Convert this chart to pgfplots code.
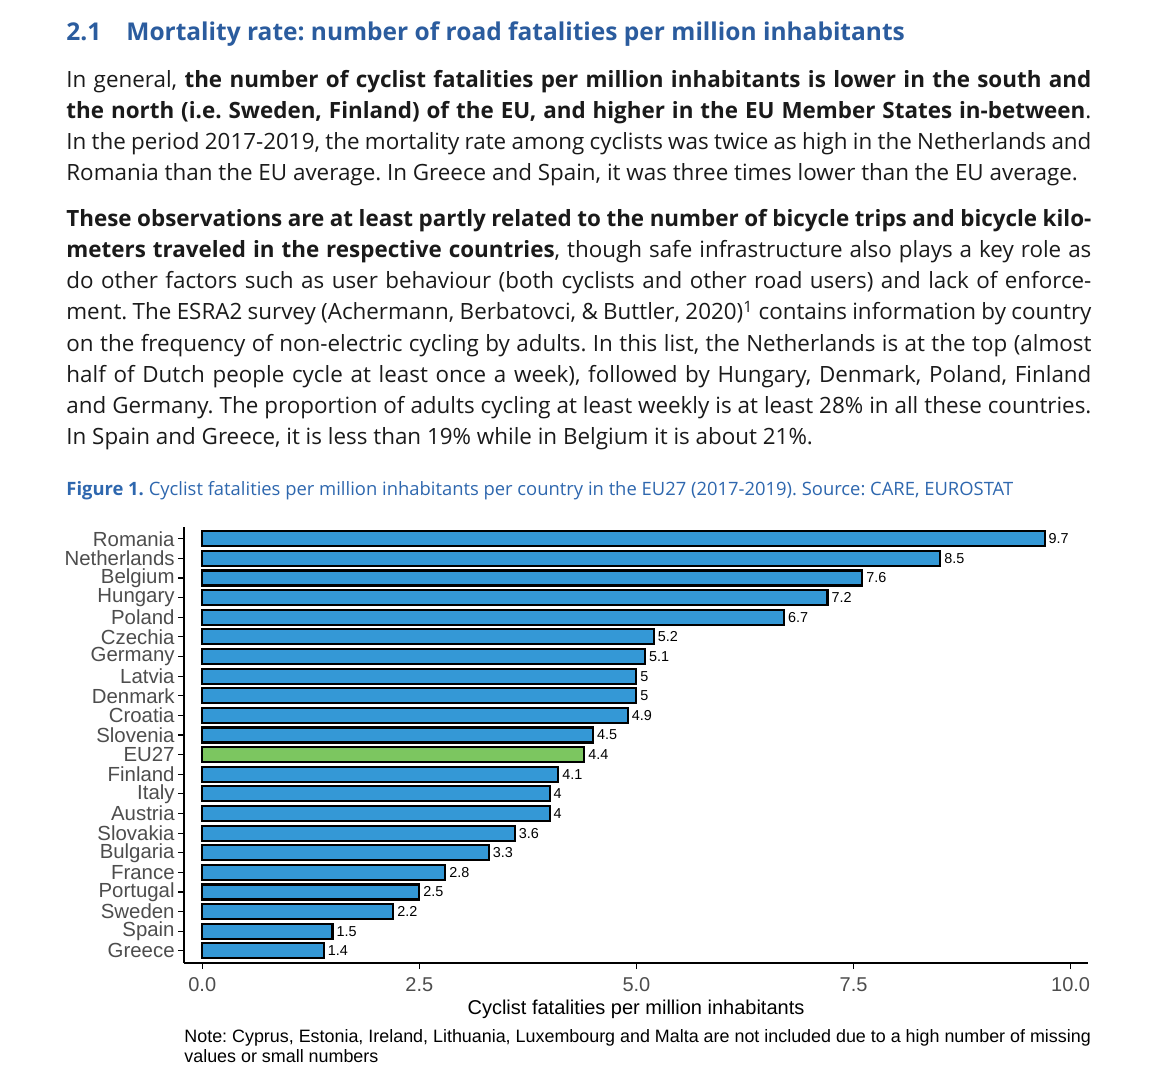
\documentclass[border=0pt]{standalone}
\usepackage{pgfplots}
\pgfplotsset{compat=1.18}
\usepackage{fontspec}
\setmainfont{Open Sans}
\newfontfamily\arial{Liberation Sans}
\definecolor{headblue}{HTML}{2B5C9E}
\definecolor{capblue}{HTML}{2E67AE}
\definecolor{barblue}{HTML}{3498D6}
\definecolor{bargreen}{HTML}{7CC660}
\definecolor{bodytext}{HTML}{1A1A1A}
\definecolor{ticktext}{HTML}{4D4D4D}
\frenchspacing

% one justified line of body text, baseline at pixel y
\newcommand{\jline}[2]{\node[anchor=base west,inner sep=0pt,text=bodytext,font=\fontsize{11.2}{15.5}\selectfont] at (66,-#1) {\hbox to 512.5pt{#2}};}
\newcommand{\lline}[2]{\node[anchor=base west,inner sep=0pt,text=bodytext,font=\fontsize{11.2}{15.5}\selectfont] at (66,-#1) {#2};}

\pgfplotstableread{
idx value
0 1.4
1 1.5
2 2.2
3 2.5
4 2.8
5 3.3
6 3.6
7 4.0
8 4.0
9 4.1
11 4.5
12 4.9
13 5.0
14 5.0
15 5.1
16 5.2
17 6.7
18 7.2
19 7.6
20 8.5
21 9.7
}\countries
\pgfplotstableread{
idx value
10 4.4
}\eutotal

\begin{document}
\begin{tikzpicture}[x=0.5pt,y=0.5pt]
\path[use as bounding box] (0,0) rectangle (1165,-1080);

% heading
\node[anchor=base west,inner sep=0pt,text=headblue,font=\fontsize{12.25}{15}\selectfont\bfseries] at (66,-41) {2.1};
\node[anchor=base west,inner sep=0pt,text=headblue,font=\fontsize{12.25}{15}\selectfont\bfseries] at (126,-41) {Mortality rate: number of road fatalities per million inhabitants};

% paragraph 1
\jline{88}{In general, \textbf{the number of cyclist fatalities per million inhabitants is lower in the south and}}
\jline{119}{\textbf{the north (i.e. Sweden, Finland) of the EU, and higher in the EU Member States in-between}.}
\jline{150}{In the period 2017-2019, the mortality rate among cyclists was twice as high in the Netherlands and}
\lline{181}{Romania than the EU average. In Greece and Spain, it was three times lower than the EU average.}

% paragraph 2
\jline{227}{\textbf{These observations are at least partly related to the number of bicycle trips and bicycle kilo-}}
\jline{258}{\textbf{meters traveled in the respective countries}, though safe infrastructure also plays a key role as}
\jline{289}{do other factors such as user behaviour (both cyclists and other road users) and lack of enforce-}
\jline{320}{ment. The ESRA2 survey (Achermann, Berbatovci, \& Buttler, 2020)\textsuperscript{1} contains information by country}
\jline{351}{on the frequency of non-electric cycling by adults. In this list, the Netherlands is at the top (almost}
\jline{382}{half of Dutch people cycle at least once a week), followed by Hungary, Denmark, Poland, Finland}
\jline{413}{and Germany. The proportion of adults cycling at least weekly is at least 28\% in all these countries.}
\lline{444}{In Spain and Greece, it is less than 19\% while in Belgium it is about 21\%.}

% figure caption
\node[anchor=base west,inner sep=0pt,text=capblue,font=\fontsize{9.2}{10}\selectfont] at (66,-495) {\textbf{Figure 1.} Cyclist fatalities per million inhabitants per country in the EU27 (2017-2019). Source: CARE, EUROSTAT};

\begin{axis}[
  at={(92pt,-481.5pt)}, anchor=south west,
  width=452pt, height=218pt, scale only axis,
  /pgf/number format/assume math mode=true,
  xbar, bar width=7.5pt, bar shift=0pt,
  xmin=-0.21, xmax=10.2, ymin=-0.62, ymax=21.6,
  axis x line*=bottom, axis y line*=left,
  axis line style={-,line width=0.8pt,black},
  xtick={0,2.5,5,7.5,10},
  xticklabels={0.0,2.5,5.0,7.5,10.0},
  ytick={0,...,21},
  yticklabels={Greece,Spain,Sweden,Portugal,France,Bulgaria,Slovakia,Austria,Italy,Finland,EU27,Slovenia,Croatia,Denmark,Latvia,Germany,Czechia,Poland,Hungary,Belgium,Netherlands,Romania},
  tick align=outside, major tick length=3pt,
  tick style={black,line width=0.6pt},
  ticklabel style={font=\arial\fontsize{10}{10}\selectfont,text=ticktext},
  yticklabel style={inner xsep=1.5pt,inner ysep=0pt,font=\arial\fontsize{10.2}{10}\selectfont},
  xticklabel style={inner sep=2pt,yshift=-2pt},
  xlabel={Cyclist fatalities per million inhabitants},
  xlabel style={font=\arial\fontsize{10}{12}\selectfont,text=black,yshift=1.5pt},
  nodes near coords, point meta=x,
  nodes near coords style={font=\arial\fontsize{7.2}{8}\selectfont,text=black,anchor=west,inner sep=1.5pt},
  clip=false,
]
\addplot[fill=barblue,draw=black,line width=1.05pt] table[x=value,y=idx] {\countries};
\addplot[fill=bargreen,draw=black,line width=1.05pt] table[x=value,y=idx] {\eutotal};
\end{axis}

% note
\node[anchor=base west,inner sep=0pt,font=\arial\fontsize{8.95}{10}\selectfont] at (184,-1042) {Note: Cyprus, Estonia, Ireland, Lithuania, Luxembourg and Malta are not included due to a high number of missing};
\node[anchor=base west,inner sep=0pt,font=\arial\fontsize{8.95}{10}\selectfont] at (184,-1062) {values or small numbers};
\end{tikzpicture}
\end{document}
